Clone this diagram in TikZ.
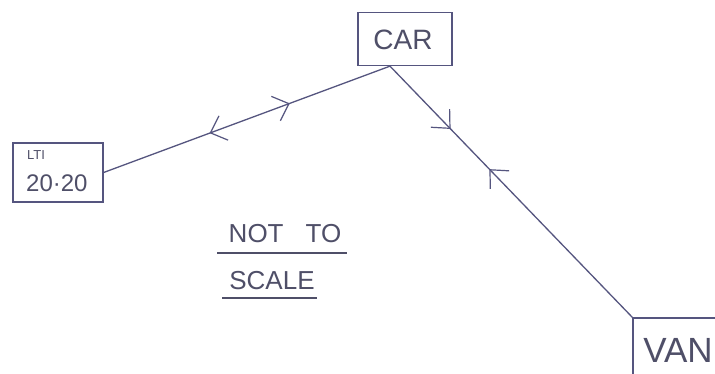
\documentclass[tikz,border=0pt]{standalone}
\usepackage{fontspec}
\setmainfont{Liberation Sans}
\usetikzlibrary{arrows.meta,decorations.markings}
\definecolor{ink}{HTML}{55557F}
\definecolor{pencil}{HTML}{4F4F68}
\tikzset{
  box/.style={draw=ink, line width=1.3pt, inner sep=0pt},
  link/.style={draw=ink, line width=1.3pt},
  lbl/.style={text=pencil, inner sep=0pt},
  uline/.style={draw=pencil, line width=1.4pt}
}
\begin{document}
\begin{tikzpicture}[x=1pt,y=-1pt]
\useasboundingbox (0,0) rectangle (715,374);
\fill[white] (0,0) rectangle (715,374);
% boxes
\node[box, minimum width=94pt, minimum height=53pt] (car) at (405,39) {};
\node[lbl, font=\fontsize{28}{30}\selectfont] (cartext) at (403,40) {CAR};
\node[box, minimum width=90pt, minimum height=59pt] (lti) at (58,172.5) {};
\node[lbl, font=\fontsize{13}{14}\selectfont, anchor=west] (ltitext) at (27,155) {LTI};
\node[lbl, font=\fontsize{24}{26}\selectfont, anchor=west] (ltinum) at (26,183) {20·20};
\node[box, minimum width=120pt, minimum height=90pt] (van) at (693,363) {};
\node[lbl, font=\fontsize{35}{37}\selectfont] (vantext) at (678,350) {VAN};
% connectors
\coordinate (cs) at ([xshift=-15pt]car.south);
\draw[link, postaction={decorate}, decoration={markings,
   mark=at position 0.35 with {\arrowreversed[ink]{Straight Barb[length=14pt,width=26pt,line width=1.2pt]}},
   mark=at position 0.63 with {\arrow[ink]{Straight Barb[length=14pt,width=26pt,line width=1.2pt]}}}]
   (cs) -- (lti.east);
\draw[link, postaction={decorate}, decoration={markings,
   mark=at position 0.25 with {\arrow[ink]{Straight Barb[length=14pt,width=26pt,line width=1.2pt]}},
   mark=at position 0.41 with {\arrowreversed[ink]{Straight Barb[length=14pt,width=26pt,line width=1.2pt]}}}]
   (cs) -- (van.north west);
% note
\node[lbl, font=\fontsize{26}{28}\selectfont] (nottext) at (285,234) {NOT\hspace{22pt}TO};
\node[lbl, font=\fontsize{26}{28}\selectfont] (scaletext) at (272,281) {SCALE};
\coordinate (u1a) at (217,253);
\coordinate (u1b) at (347,253);
\coordinate (u2a) at (222,298);
\coordinate (u2b) at (317,298);
\draw[uline] (u1a) -- (u1b);
\draw[uline] (u2a) -- (u2b);
\end{tikzpicture}
\end{document}
